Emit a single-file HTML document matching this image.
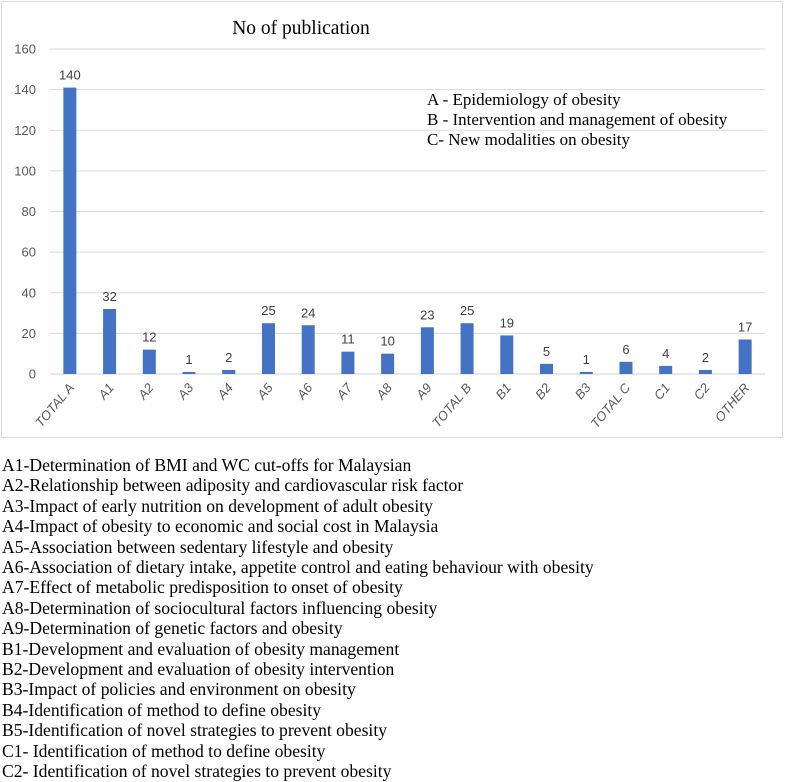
<!DOCTYPE html>
<html><head><meta charset="utf-8"><style>
body{margin:0;background:#fff;width:785px;height:780px;overflow:hidden;font-family:"Liberation Serif",serif}
svg text{font-family:"Liberation Sans",sans-serif}
#notes{position:absolute;left:2px;top:455px;font-size:17.6px;line-height:20.4px;color:#000;white-space:nowrap}
</style></head><body>
<svg width="785" height="445" style="position:absolute;left:0;top:0">
<rect x="1.5" y="1.5" width="781" height="436" fill="#fff" stroke="#d9d9d9"/>
<text x="301" y="34" text-anchor="middle" font-size="19.5" style="font-family:'Liberation Serif',serif" fill="#000">No of publication</text>
<g id="grid"></g><g id="bars"></g>
<g font-size="17" fill="#000">
<text x="427" y="105" style="font-family:'Liberation Serif',serif">A - Epidemiology of obesity</text>
<text x="427" y="125" style="font-family:'Liberation Serif',serif">B - Intervention and management of obesity</text>
<text x="427" y="145" style="font-family:'Liberation Serif',serif">C- New modalities on obesity</text>
</g>
</svg>
<div id="notes">
<div>A1-Determination of BMI and WC cut-offs for Malaysian</div>
<div>A2-Relationship between adiposity and cardiovascular risk factor</div>
<div>A3-Impact of early nutrition on development of adult obesity</div>
<div>A4-Impact of obesity to economic and social cost in Malaysia</div>
<div>A5-Association between sedentary lifestyle and obesity</div>
<div>A6-Association of dietary intake, appetite control and eating behaviour with obesity</div>
<div>A7-Effect of metabolic predisposition to onset of obesity</div>
<div>A8-Determination of sociocultural factors influencing obesity</div>
<div>A9-Determination of genetic factors and obesity</div>
<div>B1-Development and evaluation of obesity management</div>
<div>B2-Development and evaluation of obesity intervention</div>
<div>B3-Impact of policies and environment on obesity</div>
<div>B4-Identification of method to define obesity</div>
<div>B5-Identification of novel strategies to prevent obesity</div>
<div>C1- Identification of method to define obesity</div>
<div>C2- Identification of novel strategies to prevent obesity</div>
</div>
<script>
const categories=["TOTAL A","A1","A2","A3","A4","A5","A6","A7","A8","A9","TOTAL B","B1","B2","B3","TOTAL C","C1","C2","OTHER"];
const values=[141,32,12,1,2,25,24,11,10,23,25,19,5,1,6,4,2,17];
const labels=["140","32","12","1","2","25","24","11","10","23","25","19","5","1","6","4","2","17"];
const yTicks=[0,20,40,60,80,100,120,140,160];
const NS="http://www.w3.org/2000/svg";
const x0=50,x1=765,yb=374,yt=49,ymax=160;
const y=v=>yb-(v/ymax)*(yb-yt);
const bw=(x1-x0)/categories.length;
const xc=i=>x0+bw*(i+0.5);
function mk(t,a,p){const e=document.createElementNS(NS,t);for(const k in a)e.setAttribute(k,a[k]);p.appendChild(e);return e;}
const grid=document.getElementById('grid'),bars=document.getElementById('bars');
yTicks.forEach(t=>{
 const l=mk('line',{x1:x0,x2:x1,y1:y(t),y2:y(t),stroke:t===0?'#d0d0d0':'#d9d9d9','stroke-width':1},grid);
 
 
 const tx=mk('text',{x:36,y:y(t)+4.5,'text-anchor':'end','font-size':13,fill:'#595959'},grid);
 tx.textContent=t;
 
 
});
categories.forEach((c,i)=>{
 const r=mk('rect',{x:xc(i)-6.5,y:y(values[i]),width:13,height:yb-y(values[i]),fill:'#4472c4'},bars);
 
 
 const lb=mk('text',{x:xc(i),y:y(values[i])-8,'text-anchor':'middle','font-size':13,fill:'#404040'},bars);
 lb.textContent=labels[i];
 
 
 const xl=mk('text',{x:xc(i)+5,y:yb+14,'text-anchor':'end','font-size':13,'font-style':'italic',fill:'#595959',transform:`rotate(-50 ${xc(i)+5} ${yb+14})`},bars);
 xl.textContent=c;
 
 
});
</script>
</body></html>
